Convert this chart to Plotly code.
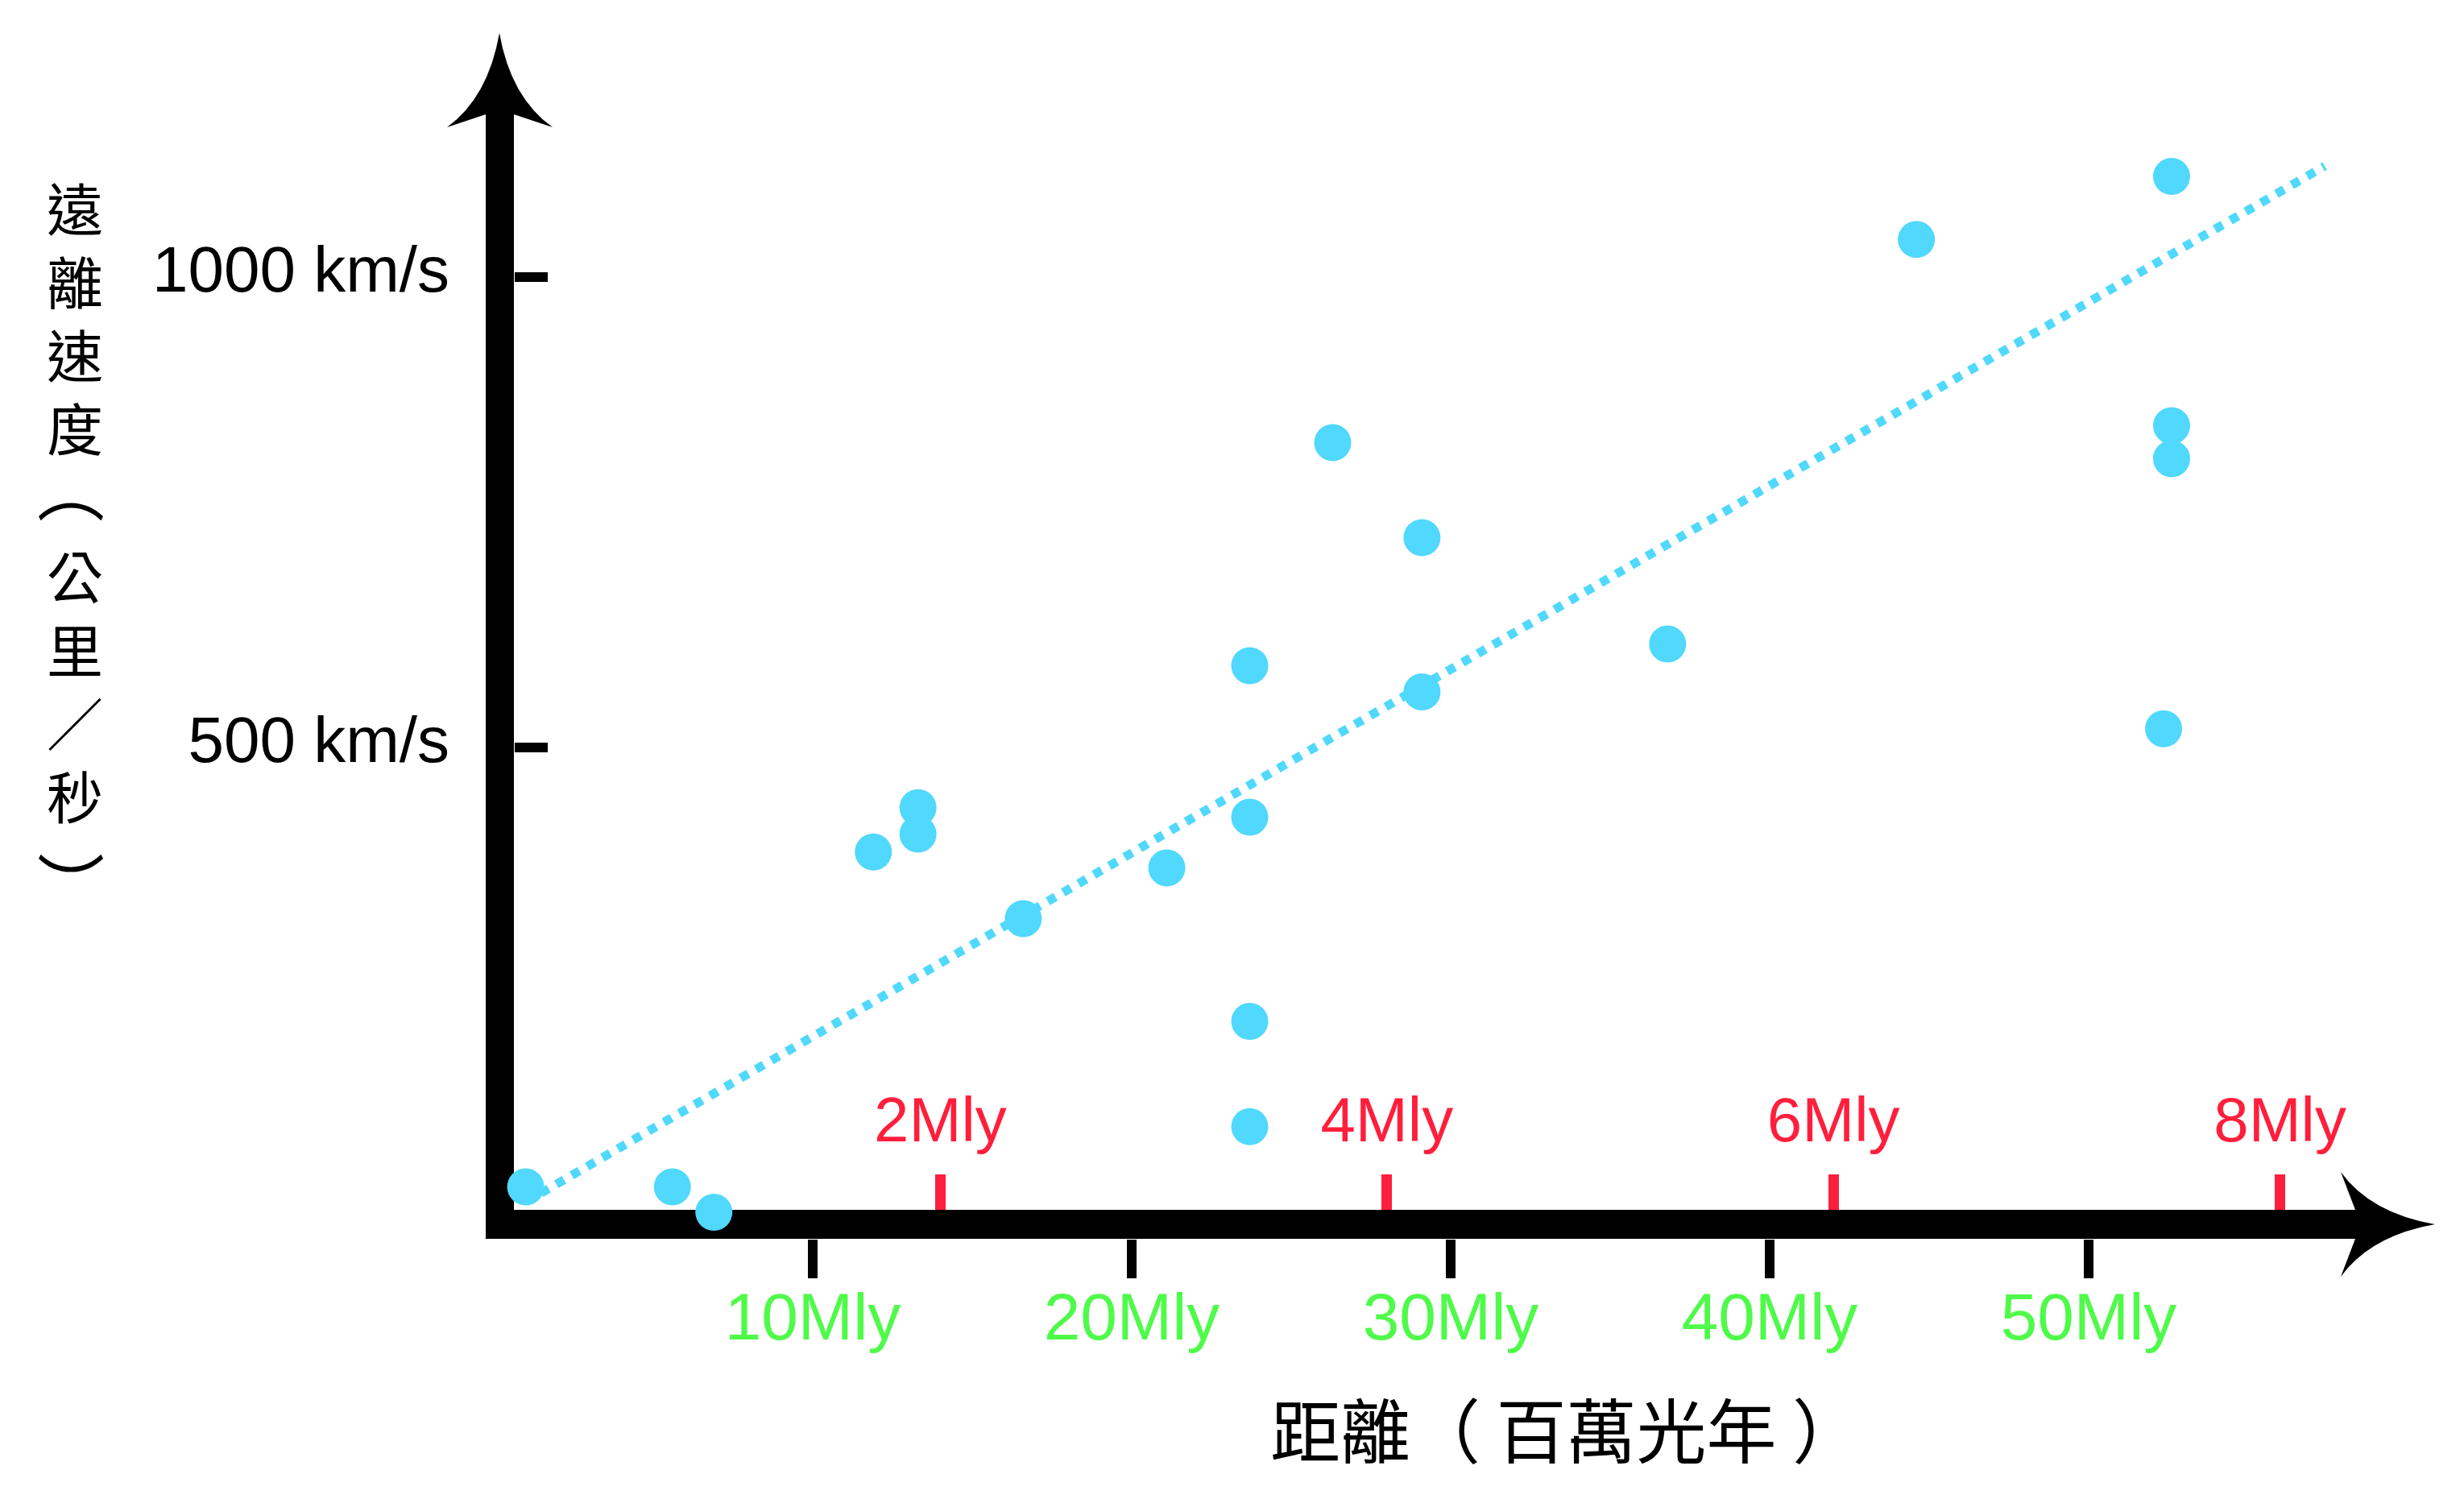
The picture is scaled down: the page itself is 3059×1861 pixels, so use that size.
import plotly.graph_objects as go

# ---------------------------------------------------------------------------
# Data
# ---------------------------------------------------------------------------
distance_mly = [1.0, 5.6, 6.9, 11.9, 13.3, 13.3, 16.6, 21.1, 23.7, 23.7, 23.7,
                23.7, 26.3, 29.1, 29.1, 36.8, 44.6, 52.6, 52.6, 52.6, 52.35]
velocity_kms = [33, 33, 6, 389, 436, 408, 318, 372, 587, 426, 209,
                97, 824, 723, 559, 610, 1040, 1107, 842, 807, 520]

trend_x = [1.0, 57.4]
trend_y = [17, 1118]

bottom_ticks = [10, 20, 30, 40, 50]
bottom_labels = ["10Mly", "20Mly", "30Mly", "40Mly", "50Mly"]
top_ticks = [2, 4, 6, 8]
top_labels = ["2Mly", "4Mly", "6Mly", "8Mly"]
y_ticks = [500, 1000]
y_labels = ["500 km/s", "1000 km/s"]

y_title_top = ["遠", "離", "速", "度"]
y_title_mid = ["公", "里", "／", "秒"]
x_title = "距離（ 百萬光年 ）"

TOP_SCALE = 7.0  # red scale unit = 7 green units

# ---------------------------------------------------------------------------
# Page geometry (page pixels)
# ---------------------------------------------------------------------------
W, H = 3040, 1840
OFF = 8                    # body margin of the html page
X0, PX_X = 613, 39.6       # page x of 0 Mly, px per Mly
Y0, PX_V = 1512, 1.168     # page y of 0 km/s, px per km/s


def dx(X):
    return (X - X0) / PX_X


def dy(Y):
    return (Y0 - Y) / PX_V


def paper_x(X):
    return (X - OFF) / W


def paper_y(Y):
    return 1 - (Y - OFF) / H


BLUE = "#50d8fd"
RED = "#ff1f3c"
GREEN = "#50fa4a"

x_range = [dx(OFF), dx(OFF + W)]
y_range = [dy(OFF + H), dy(OFF)]

fig = go.Figure()

fig.add_trace(go.Scatter(
    x=trend_x, y=trend_y, mode="lines",
    line=dict(color=BLUE, width=11, dash="dot"),
    hoverinfo="skip", showlegend=False, cliponaxis=False,
))

fig.add_trace(go.Scatter(
    x=distance_mly, y=velocity_kms, mode="markers",
    marker=dict(size=46, color=BLUE, line=dict(width=0)),
    showlegend=False, cliponaxis=False,
))

# ---------------------------------------------------------------------------
# Thick arrow axes
# ---------------------------------------------------------------------------
shapes = []
# vertical shaft
shapes.append(dict(type="rect", xref="x", yref="y", layer="below",
                   x0=dx(603), x1=dx(638), y0=dy(1538), y1=dy(140),
                   fillcolor="black", line=dict(width=0)))
# horizontal shaft
shapes.append(dict(type="rect", xref="x", yref="y", layer="below",
                   x0=dx(603), x1=dx(2926), y0=dy(1538), y1=dy(1502),
                   fillcolor="black", line=dict(width=0)))


def pt(X, Y):
    return f"{dx(X):.4f},{dy(Y):.4f}"


up_head = (f"M{pt(620, 41)} Q{pt(606, 121)} {pt(555, 158)} "
           f"L{pt(603, 142)} L{pt(638, 142)} L{pt(686, 158)} "
           f"Q{pt(634, 121)} {pt(620, 41)} Z")
right_head = (f"M{pt(3023, 1520)} Q{pt(2943, 1506)} {pt(2906, 1455)} "
              f"L{pt(2924, 1502)} L{pt(2924, 1538)} L{pt(2906, 1585)} "
              f"Q{pt(2943, 1534)} {pt(3023, 1520)} Z")
for p in (up_head, right_head):
    shapes.append(dict(type="path", xref="x", yref="y", layer="below",
                       path=p, fillcolor="black", line=dict(width=0)))

# ---------------------------------------------------------------------------
# Titles
# ---------------------------------------------------------------------------
annotations = []
CJK = "Noto Sans CJK TC"
col_font = dict(family=CJK, size=70, color="black")
paren_font = dict(family=CJK, size=84, color="black")

# vertical y title: two stacked groups plus rotated brackets
annotations.append(dict(
    text="<br>".join(y_title_top), xref="paper", yref="paper",
    x=paper_x(93), y=paper_y(393), xanchor="center", yanchor="middle",
    showarrow=False, font=col_font,
))
annotations.append(dict(
    text="（", textangle=90, xref="paper", yref="paper",
    x=paper_x(93), y=paper_y(608), xanchor="center", yanchor="middle",
    showarrow=False, font=paren_font,
))
annotations.append(dict(
    text="<br>".join(y_title_mid), xref="paper", yref="paper",
    x=paper_x(93), y=paper_y(850), xanchor="center", yanchor="middle",
    showarrow=False, font=col_font,
))
annotations.append(dict(
    text="）", textangle=90, xref="paper", yref="paper",
    x=paper_x(93), y=paper_y(1099), xanchor="center", yanchor="middle",
    showarrow=False, font=paren_font,
))
annotations.append(dict(
    text=x_title, xref="paper", yref="paper",
    x=paper_x(1944), y=paper_y(1772),
    xanchor="center", yanchor="middle", showarrow=False,
    font=dict(family=CJK, size=87, color="black"),
))

fig.update_layout(
    width=W, height=H,
    margin=dict(l=0, r=0, t=0, b=0),
    paper_bgcolor="white", plot_bgcolor="white",
    showlegend=False,
    shapes=shapes,
    annotations=annotations,
    xaxis=dict(
        range=x_range, anchor="free", position=paper_y(1538), side="bottom",
        showline=False, showgrid=False, zeroline=False,
        tickmode="array", tickvals=bottom_ticks, ticktext=bottom_labels,
        ticks="outside", ticklen=48, tickwidth=12, tickcolor="black",
        ticklabelstandoff=-22,
        tickfont=dict(family="Liberation Sans Narrow, Arial Narrow, Liberation Sans",
                      size=82, color=GREEN),
    ),
    xaxis2=dict(
        range=[x_range[0] / TOP_SCALE, x_range[1] / TOP_SCALE],
        overlaying="x", anchor="free", position=paper_y(1502), side="top",
        showline=False, showgrid=False, zeroline=False,
        tickmode="array", tickvals=top_ticks, ticktext=top_labels,
        ticks="outside", ticklen=44, tickwidth=13, tickcolor=RED,
        ticklabelstandoff=10,
        tickfont=dict(family="Liberation Sans, Arial", size=78, color=RED),
    ),
    yaxis=dict(
        range=y_range, anchor="free", position=paper_x(638), side="left",
        showline=False, showgrid=False, zeroline=False,
        tickmode="array", tickvals=y_ticks, ticktext=y_labels,
        ticks="inside", ticklen=41, tickwidth=12, tickcolor="black",
        ticklabelstandoff=80, ticklabelshift=-10,
        tickfont=dict(family="Liberation Sans, Arial", size=80, color="black"),
    ),
)

# empty trace bound to the top axis so it is drawn
fig.add_trace(go.Scatter(x=[None], y=[None], xaxis="x2", yaxis="y",
                         showlegend=False, hoverinfo="skip"))

fig.write_html("out.html")
